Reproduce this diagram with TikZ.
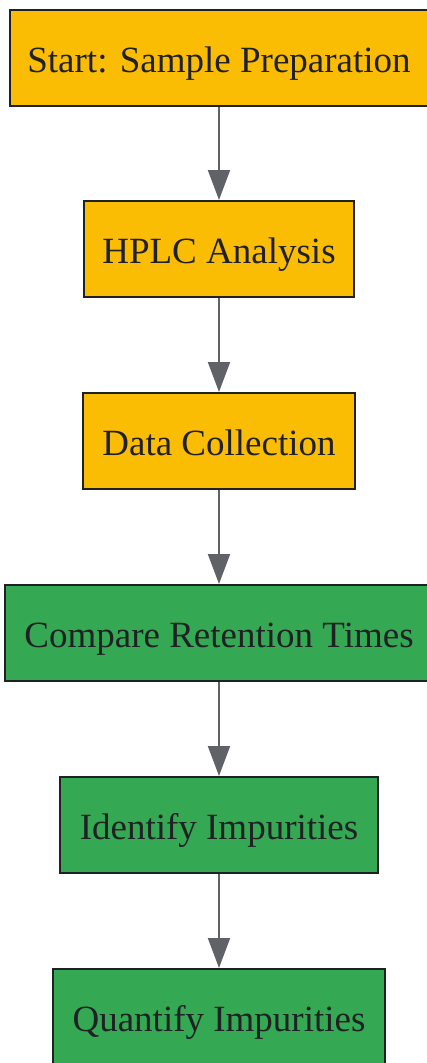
\documentclass[tikz,border=0pt]{standalone}
\usepackage{fontspec}
\setmainfont{Liberation Serif}
\usetikzlibrary{arrows.meta}
\definecolor{yel}{HTML}{FBBC04}
\definecolor{grn}{HTML}{34A853}
\definecolor{edge}{HTML}{5F6368}
\definecolor{txt}{HTML}{202124}
\tikzset{
  box/.style={draw=txt, line width=2pt, minimum height=96pt, inner sep=0pt,
    text height=30pt, text depth=2pt,
    text=txt, font=\fontsize{37}{40}\selectfont},
  ybox/.style={box, fill=yel},
  gbox/.style={box, fill=grn},
  conn/.style={draw=edge, line width=2pt, -{Triangle[length=30pt,width=22pt]}}
}
\begin{document}
\begin{tikzpicture}[x=1pt,y=1pt]
\useasboundingbox (0,0) rectangle (427,-1063);
\node[ybox, minimum width=418pt] (a) at (219,-58) {Start: Sample Preparation};
\node[ybox, minimum width=270pt] (b) at (219,-249) {HPLC Analysis};
\node[ybox, minimum width=272pt] (c) at (219,-441) {Data Collection};
\node[gbox, minimum width=428pt] (d) at (219,-633) {Compare Retention Times};
\node[gbox, minimum width=318pt] (e) at (219,-825) {Identify Impurities};
\node[gbox, minimum width=332pt] (f) at (219,-1017) {Quantify Impurities};
\draw[conn] (a) -- (b);
\draw[conn] (b) -- (c);
\draw[conn] (c) -- (d);
\draw[conn] (d) -- (e);
\draw[conn] (e) -- (f);
\end{tikzpicture}
\end{document}
